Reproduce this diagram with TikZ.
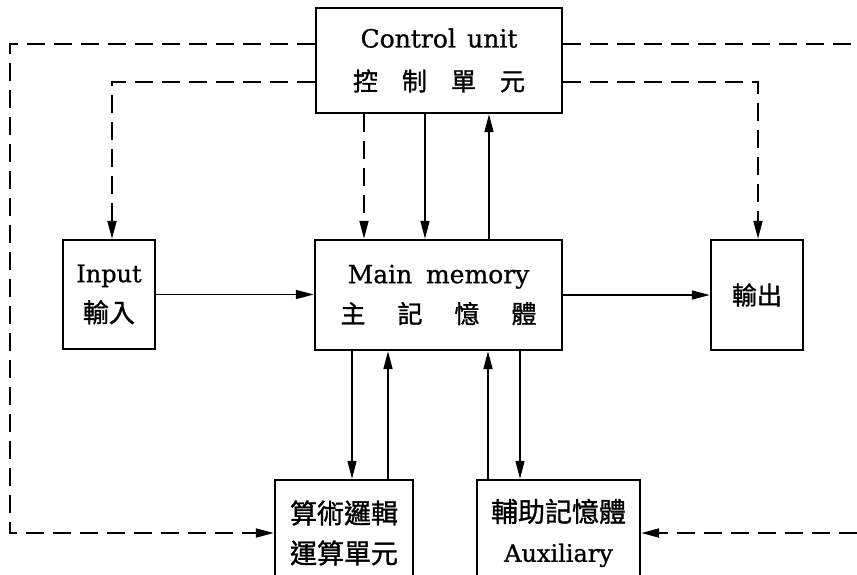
\documentclass[tikz,border=0pt]{standalone}
\usepackage{fontspec}
\setmainfont{DejaVu Serif}[FakeBold=0.8]
\newfontfamily\cjk{Noto Sans CJK TC}[FakeBold=1.2]
\usetikzlibrary{arrows.meta}
\begin{document}
\begin{tikzpicture}[x=1pt,y=-1pt,
  unitbox/.style={draw, line width=2.4pt, inner sep=0pt, align=center,
    font=\fontsize{25}{40}\selectfont},
  flow/.style={line width=1.6pt, -{Triangle[length=18pt,width=9pt]}},
  ctrlflow/.style={flow, line width=1.9pt, dash pattern=on 18pt off 9pt}]
\useasboundingbox (0,0) rectangle (857,574);
\clip (0,0) rectangle (857,574);

% boxes
\node[unitbox, minimum width=246pt, minimum height=105pt] (ctrl) at (439,60.5)
  {\raisebox{3pt}{Control\hspace{0.45em}unit}\\{\cjk 控\hspace{24pt}制\hspace{24pt}單\hspace{24pt}元}};
\node[unitbox, minimum width=247pt, minimum height=110pt] (main) at (438.5,295)
  {Main\hspace{0.55em}memory\\{\cjk 主\hspace{32pt}記\hspace{32pt}憶\hspace{32pt}體}};
\node[unitbox, minimum width=92pt, minimum height=109pt] (in) at (109,294.5)
  {{\fontsize{24}{40}\selectfont Input}\\{\cjk\fontsize{26}{40}\selectfont 輸入}};
\node[unitbox, minimum width=92pt, minimum height=110pt] (out) at (757,295)
  {{\cjk 輸出}};
\node[unitbox, minimum width=138pt, minimum height=106pt] (alu) at (344,533)
  {{\cjk\fontsize{27}{40}\selectfont 算術邏輯}\\{\cjk\fontsize{27}{40}\selectfont 運算單元}};
\node[unitbox, minimum width=163pt, minimum height=106pt] (aux) at (558.5,533)
  {{\cjk\fontsize{27}{40}\selectfont 輔助記憶體}\\{\fontsize{24}{40}\selectfont Auxiliary}};

% helper coordinates
\coordinate (cL1) at (10,44);
\coordinate (cL2) at (112,82);
\coordinate (cR1) at (857,44);
\coordinate (cR2) at (758,82);
\coordinate (cR3) at (857,533);
\coordinate (x364) at (364,0);
\coordinate (x425) at (425,0);
\coordinate (x489) at (489,0);
\coordinate (x352) at (352,0);
\coordinate (x388) at (388,0);
\coordinate (x488) at (488,0);
\coordinate (x520) at (520,0);

% control (dashed) connectors
\draw[ctrlflow] (ctrl.west |- cL1) -- (cL1) -- (cL1 |- alu.west) -- (alu.west);
\draw[ctrlflow, -] (ctrl.east |- cR1) -- (cR1);
\draw[ctrlflow] (cR3) -- (aux.east);
\draw[ctrlflow] (ctrl.west |- cL2) -- (cL2) -- (cL2 |- in.north);
\draw[ctrlflow] (ctrl.east |- cR2) -- (cR2) -- (cR2 |- out.north);
\draw[ctrlflow] (ctrl.south -| x364) -- (main.north -| x364);

% data connectors
\draw[flow] (ctrl.south -| x425) -- (main.north -| x425);
\draw[flow] (main.north -| x489) -- (ctrl.south -| x489);
\draw[flow] (in.east) -- (in.east -| main.west);
\draw[flow] (main.east) -- (main.east -| out.west);
\draw[flow] (main.south -| x352) -- (alu.north -| x352);
\draw[flow] (alu.north -| x388) -- (main.south -| x388);
\draw[flow] (aux.north -| x488) -- (main.south -| x488);
\draw[flow] (main.south -| x520) -- (aux.north -| x520);
\end{tikzpicture}
\end{document}
